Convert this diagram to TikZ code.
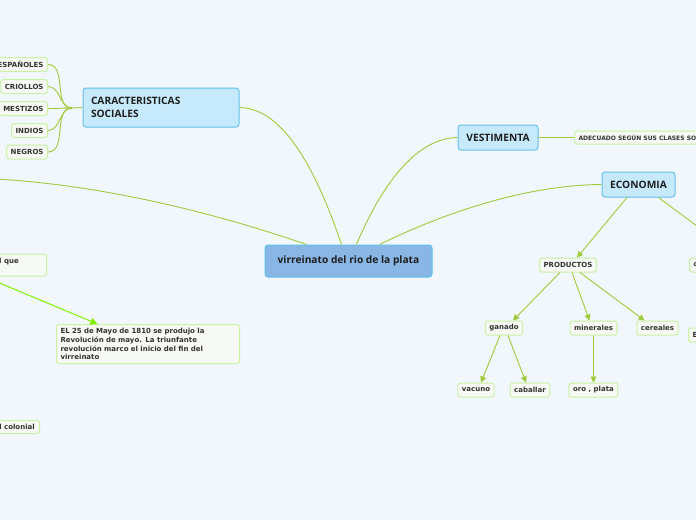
\documentclass[tikz,border=0pt]{standalone}
\usepackage{fontspec}
\setmainfont{DejaVu Sans}
\newfontfamily\topicfont{Open Sans}
\newfontfamily\leaffont{DejaVu Sans}
\usetikzlibrary{arrows.meta,calc}
\definecolor{bgc}{HTML}{F2F6FD}
\definecolor{topicfill}{HTML}{C6EAFB}
\definecolor{topicdraw}{HTML}{66C0EC}
\definecolor{centerfill}{HTML}{8AB6E6}
\definecolor{centerdraw}{HTML}{5EC3EE}
\definecolor{leafdraw}{HTML}{C9F2A2}
\definecolor{leaffill}{HTML}{F6F9F4}
\definecolor{linec}{HTML}{9FCB3A}
\definecolor{brightg}{HTML}{80F000}
\definecolor{txt}{HTML}{1E1E1E}
\definecolor{leaftxt}{HTML}{333333}
\begin{document}
\begin{tikzpicture}[x=1pt,y=-1pt,
  topic/.style={draw=topicdraw, fill=topicfill, line width=1pt, rounded corners=3pt,
    font=\topicfont\bfseries\fontsize{10.2}{12.5}\selectfont, text=txt, inner sep=0pt},
  leaf/.style={draw=leafdraw, fill=leaffill, line width=1pt, rounded corners=2.5pt,
    font=\leaffont\bfseries\fontsize{7}{8.6}\selectfont, text=leaftxt,
    inner xsep=4pt, inner ysep=0pt, minimum height=14pt},
  ltext/.style={font=\leaffont\bfseries\fontsize{7}{8.6}\selectfont, text=leaftxt, inner sep=0pt},
  conn/.style={draw=linec, line width=0.9pt},
  arr/.style={conn, -{Triangle[length=6pt,width=6pt]}},
  brarr/.style={draw=brightg, line width=1pt, -{Triangle[length=7pt,width=7pt]}}]
\fill[bgc] (0,0) rectangle (696,520);
\useasboundingbox (0,0) rectangle (696,520);
\clip (0,0) rectangle (696,520);

% main topics
\node[topic, fill=centerfill, draw=centerdraw, minimum width=167pt, minimum height=32pt] (c) at (348.5,261) {virreinato del rio de la plata};
\node[topic, minimum width=156pt, minimum height=39pt, text width=140pt, align=left] (cs) at (161,107.5) {CARACTERISTICAS\\SOCIALES};
\node[topic, minimum width=80pt, minimum height=25pt] (ve) at (498,137.5) {VESTIMENTA};
\node[topic, minimum width=73pt, minimum height=25pt] (ec) at (638.5,184.5) {ECONOMIA};

% social classes
\node[leaf, anchor=east] (esp) at (48,64.5) {ESPAÑOLES};
\node[leaf, anchor=east] (cr) at (48,86.5) {CRIOLLOS};
\node[leaf, anchor=east] (me) at (48,108.5) {MESTIZOS};
\node[leaf, anchor=east] (in) at (48,130.5) {INDIOS};
\node[leaf, anchor=east] (ne) at (48,152) {NEGROS};
\coordinate (hub) at (72,108);
\draw[conn] (cs.west) -- (hub);
\foreach \n in {esp,cr,me,in,ne} \draw[conn] (hub) to[out=180,in=0] (\n.east);

% central connectors
\coordinate (far) at (-30,178);
\draw[conn] ([xshift=42pt]c.north west) .. controls (230,218) and (100,181) .. (far);
\draw[conn] ([xshift=77pt]c.north west) .. controls (318,175) and (285,108) .. (cs.east);
\draw[conn] ([xshift=92pt]c.north west) .. controls (375,200) and (410,138) .. (ve.west);
\draw[conn] ([xshift=115pt]c.north west) .. controls (450,210) and (530,185) .. (ec.west);

% vestimenta
\node[leaf, anchor=west, minimum height=13pt, font=\leaffont\bfseries\fontsize{6}{7}\selectfont] (ad) at (574,137.5) {ADECUADO SEGÚN SUS CLASES SOCIALES};
\draw[conn] (ve.east) -- (ad.west);

% economia
\node[leaf] (pr) at (568,265) {PRODUCTOS};
\draw[arr] ([xshift=-11.5pt]ec.south) -- ([xshift=9pt]pr.north);
\coordinate (ecr) at (740,258);
\node[leaf, anchor=west, text width=30pt, align=left] (co) at (689,265) {c};
\draw[arr] ([xshift=20pt]ec.south) -- (ecr);
\node[leaf, anchor=west, text width=30pt, align=left] (e2) at (688,335) {E};

\node[leaf] (ga) at (504,328) {ganado};
\node[leaf] (mi) at (593.5,328) {minerales};
\node[leaf] (ce) at (657.5,328) {cereales};
\draw[arr] ([xshift=-8pt]pr.south) -- ([xshift=9pt]ga.north);
\draw[arr] ([xshift=4pt]pr.south) -- ([xshift=-4pt]mi.north);
\draw[arr] ([xshift=12pt]pr.south) -- ([xshift=-13pt]ce.north);

\node[leaf] (va) at (476,390) {vacuno};
\node[leaf] (cb) at (530,390) {caballar};
\node[leaf] (op) at (593.5,390) {oro , plata};
\draw[arr] ([xshift=-4pt]ga.south) -- ([xshift=5pt]va.north);
\draw[arr] ([xshift=4pt]ga.south) -- ([xshift=-4pt]cb.north);
\draw[arr] (mi.south) -- (op.north);

% left bottom
\node[leaf, anchor=east, minimum width=120pt, minimum height=22pt] (q) at (47,265) {};
\node[ltext, anchor=west] (qt) at (-1,262) {l que};
\node[leaf, anchor=north west, minimum width=183pt, minimum height=39pt, text width=175pt, align=left, inner sep=4pt] (el) at (56,324)
  {EL 25 de Mayo de 1810 se produjo la\\Revolución de mayo. La triunfante\\revolución marco el inicio del fin del\\virreinato};
\coordinate (gs) at (-10,279);
\draw[brarr] (gs) -- ([xshift=-50.5pt]el.north);
\node[leaf, anchor=east, minimum width=100pt, minimum height=13pt] (lc) at (40,427) {};
\node[ltext, anchor=east] (lct) at (35,427) {l colonial};
\end{tikzpicture}
\end{document}
